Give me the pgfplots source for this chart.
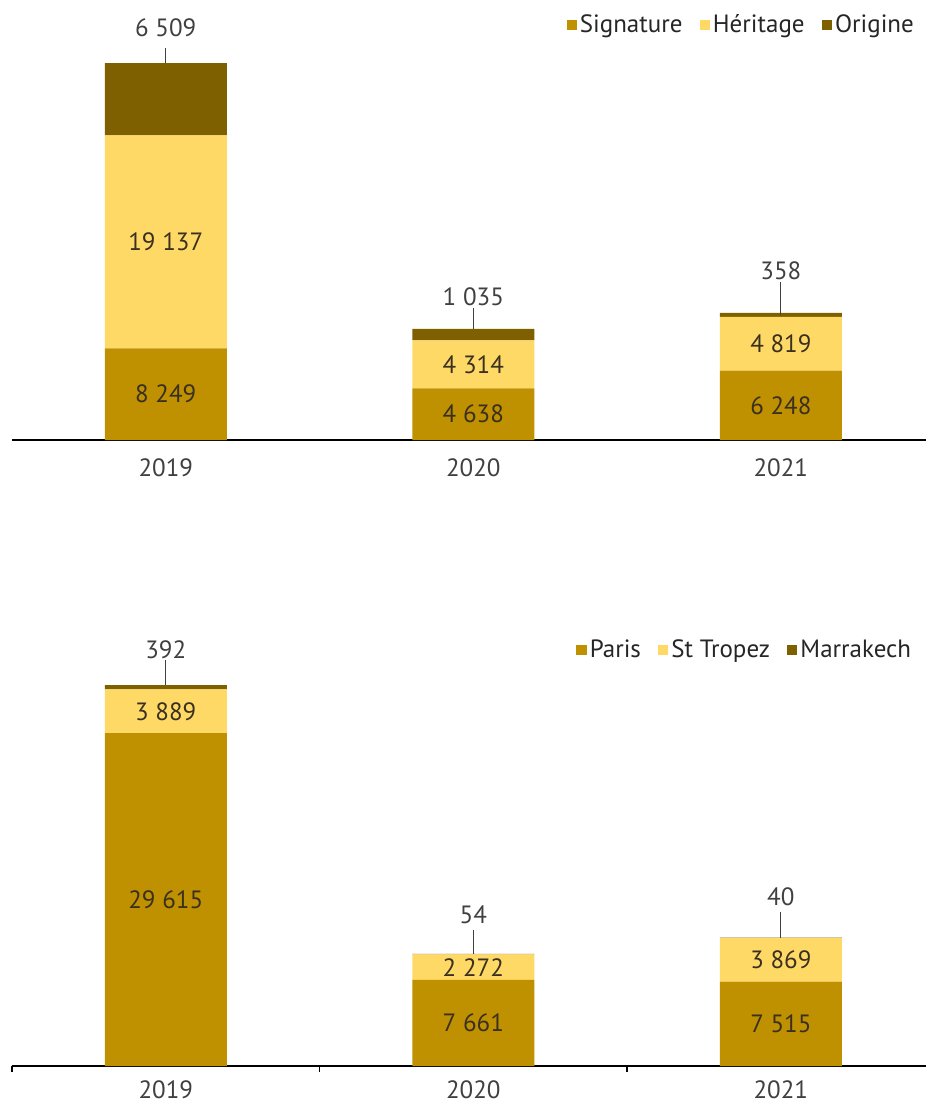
\documentclass[border=0pt]{standalone}
\usepackage{fontspec}
\setmainfont{PT Sans}
\usepackage{pgfplots}
\usepackage{pgfplotstable}
\pgfplotsset{compat=1.18}
\definecolor{sig}{HTML}{BF9000}
\definecolor{her}{HTML}{FFD966}
\definecolor{ori}{HTML}{7F6000}
\definecolor{lab}{HTML}{3A3020}
\definecolor{txt}{HTML}{404040}
\newcommand\cf{\fontsize{12.5}{15}\selectfont}

\pgfplotstableread{
x sig her ori
0 8249 19137 6509
1 4638 4314 1035
2 6248 4819 358
}\topdata
\pgfplotstableread{
x par stt mar
0 29615 3889 392
1 7661 2272 54
2 7515 3869 40
}\botdata
\pgfplotstableread[col sep=comma]{
x,y,lab
0,4124.5,8 249
0,17817.5,19 137
1,2319,4 638
1,6795,4 314
2,3124,6 248
2,8657.5,4 819
}\topinner
\pgfplotstableread[col sep=comma]{
x,y,lab
0,37040,6 509
1,12856,1 035
2,15194,358
}\topouter
\pgfplotstableread[col sep=comma]{
x,y,lab
0,14807.5,29 615
0,31559.5,3 889
1,3830.5,7 661
1,8797,2 272
2,3757.5,7 515
2,9449.5,3 869
}\botinner
\pgfplotstableread[col sep=comma]{
x,y,lab
0,37010,392
1,13434,54
2,15036,40
}\botouter

\pgfplotsset{
  base/.style={scale only axis, width=457pt, xmin=-0.5, xmax=2.472, ymin=0, clip=false, anchor=south west},
  topax/.style={base, height=220pt, ymax=39560, at={(6pt,-220pt)}},
  botax/.style={base, height=218pt, ymax=38790, at={(6pt,-533pt)}},
  barax/.style={ybar stacked, bar width=61pt,
    axis x line*=bottom, axis y line=none,
    axis line style={black, line width=0.8pt, -},
    xtick={0,1,2}, xticklabels={2019,2020,2021}, major tick length=0pt,
    xticklabel style={font=\cf, text=txt},
    legend style={draw=none, fill=none, legend columns=-1,
      nodes={inner sep=1.5pt, font=\cf, text=black!85},
      /tikz/every even column/.append style={column sep=7pt}},
    legend image code/.code={\fill[##1] (0pt,-2.6pt) rectangle (5.2pt,2.6pt);},
  },
  labax/.style={axis lines=none, xtick=\empty, ytick=\empty},
  inlab/.style={draw=none, nodes near coords, point meta=explicit symbolic,
    every node near coord/.append style={anchor=center, font=\cf, text=lab}},
  outlab/.style={draw=none, nodes near coords, point meta=explicit symbolic,
    every node near coord/.append style={anchor=center, font=\cf, text=txt}},
  lead/.style={txt, line width=0.6pt},
}

\begin{document}
\begin{tikzpicture}
\useasboundingbox (0,0) rectangle (463pt,-552.5pt);

% ---------- top chart ----------
\begin{axis}[topax, barax,
  xticklabel style={yshift=-6pt},
  legend style={at={(0.997,0.943)}, anchor=east}]
\addplot[fill=sig, draw=none] table[x=x,y=sig]{\topdata};
\addlegendentry{Signature}
\addplot[fill=her, draw=none] table[x=x,y=her]{\topdata};
\addlegendentry{Héritage}
\addplot[fill=ori, draw=none] table[x=x,y=ori]{\topdata};
\addlegendentry{Origine}
\end{axis}
\begin{axis}[topax, labax]
\addplot[inlab] table[x=x,y=y,meta=lab]{\topinner};
\addplot[outlab] table[x=x,y=y,meta=lab]{\topouter};
\addplot[lead] coordinates {(0,33895) (0,35243)};
\addplot[lead] coordinates {(1,9987) (1,11867)};
\addplot[lead] coordinates {(2,11246) (2,14205)};
\end{axis}

% ---------- bottom chart ----------
\begin{axis}[botax, barax,
  xticklabel style={yshift=-4pt},
  minor xtick={-0.5,0.5,1.5}, minor tick length=3pt, tick align=outside,
  minor x tick style={black, line width=0.6pt},
  legend style={at={(0.994,0.954)}, anchor=east}]
\addplot[fill=sig, draw=none] table[x=x,y=par]{\botdata};
\addlegendentry{Paris}
\addplot[fill=her, draw=none] table[x=x,y=stt]{\botdata};
\addlegendentry{St Tropez}
\addplot[fill=ori, draw=none] table[x=x,y=mar]{\botdata};
\addlegendentry{Marrakech}
\end{axis}
\begin{axis}[botax, labax]
\addplot[inlab] table[x=x,y=y,meta=lab]{\botinner};
\addplot[outlab] table[x=x,y=y,meta=lab]{\botouter};
\addplot[lead] coordinates {(0,33896) (0,36120)};
\addplot[lead] coordinates {(1,9987) (1,12100)};
\addplot[lead] coordinates {(2,11424) (2,13700)};
\end{axis}
\end{tikzpicture}
\end{document}
